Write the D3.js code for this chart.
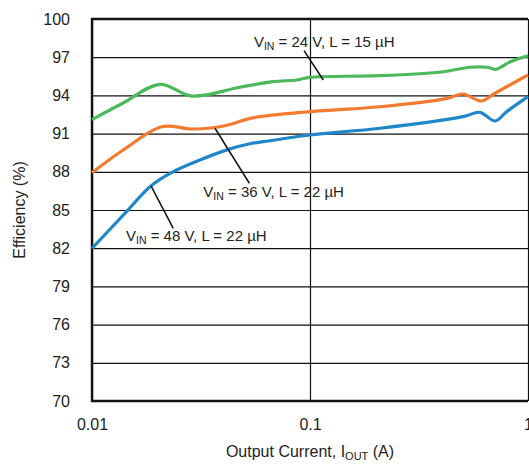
<!DOCTYPE html>
<html>
<head>
<meta charset="utf-8">
<script src="https://cdn.jsdelivr.net/npm/d3@7"></script>
<style>
  body { margin: 0; background: #fff; }
  text { font-family: "Liberation Sans", Arial, Helvetica, sans-serif; fill: #222; }
</style>
</head>
<body>
<svg id="chart" width="529" height="470"></svg>
<script>
// efficiency curves, [output current (A), efficiency (%)]
var vin24 = [[0.01, 92.1], [0.0139, 93.4], [0.0205, 94.87], [0.0287, 93.95], [0.0477, 94.64],
  [0.0676, 95.08], [0.087, 95.21], [0.1, 95.42], [0.21, 95.55], [0.41, 95.86],
  [0.54, 96.21], [0.65, 96.21], [0.71, 96.05], [0.83, 96.65], [1, 97.12]];
var vin36 = [[0.01, 87.93], [0.0139, 89.71], [0.0209, 91.54], [0.0287, 91.36], [0.0359, 91.46],
  [0.043, 91.72], [0.0531, 92.2], [0.1, 92.72], [0.21, 93.11], [0.425, 93.77],
  [0.503, 94.11], [0.613, 93.56], [0.706, 94.17], [1, 95.6]];
var vin48 = [[0.01, 81.99], [0.0144, 84.87], [0.01845, 86.83], [0.0228, 87.88], [0.0313, 88.93],
  [0.043, 89.8], [0.0531, 90.2], [0.0655, 90.44], [0.1, 90.89], [0.21, 91.42],
  [0.503, 92.33], [0.602, 92.67], [0.706, 91.99], [0.798, 92.72], [1, 93.9]];

var yTicks = [70, 73, 76, 79, 82, 85, 88, 91, 94, 97, 100];
var xTicks = [0.01, 0.1, 1];
var xTickLabels = ["0.01", "0.1", "1"];

// labels: [text x, text y, leader from x, y, leader to x, y] in data units
var notes = [
  { v: "24", l: "15", pos: [0.0553, 97.82, 0.0939, 97.51, 0.1151, 95.21] },
  { v: "36", l: "22", pos: [0.0324, 86.05, 0.03666, 91.42, 0.0527, 87.10] },
  { v: "48", l: "22", pos: [0.01432, 82.59, 0.01864, 86.89, 0.0236, 83.56] }
];

var series = [
  { data: vin24, color: "#4cb95a" },
  { data: vin36, color: "#f47a30" },
  { data: vin48, color: "#1f87c9" }
];

var svg = d3.select("#chart");
var mLeft = 92, mRight = 528, mTop = 19, mBottom = 401;

var x = d3.scaleLog().domain([0.01, 1]).range([mLeft, mRight]);
var y = d3.scaleLinear().domain([70, 100]).range([mBottom, mTop]);

// horizontal grid + y labels
var yAxis = svg.append("g")
    .attr("transform", "translate(" + mLeft + ",0)")
    .call(d3.axisLeft(y).tickValues(yTicks).tickSizeInner(-(mRight - mLeft)).tickSizeOuter(0).tickPadding(22));
yAxis.select(".domain").remove();
yAxis.selectAll("line").attr("stroke", "#111").attr("stroke-width", 1.2);
yAxis.selectAll("text").attr("font-size", 16).attr("font-family", null).attr("fill", null);

// vertical grid + x labels
var xAxis = svg.append("g")
    .attr("transform", "translate(0," + mBottom + ")")
    .call(d3.axisBottom(x).tickValues(xTicks).tickFormat(function(d, i) { return xTickLabels[i]; })
      .tickSizeInner(-(mBottom - mTop)).tickSizeOuter(0).tickPadding(18));
xAxis.select(".domain").remove();
xAxis.selectAll("line").attr("stroke", "#111").attr("stroke-width", 1.2);
xAxis.selectAll("text").attr("font-size", 16).attr("font-family", null).attr("fill", null);

// frame
svg.append("path")
    .attr("d", "M" + mRight + "," + mTop + "H" + mLeft + "V" + mBottom + "H" + mRight)
    .attr("fill", "none").attr("stroke", "#111").attr("stroke-width", 2.4);

// curves
var line = d3.line()
    .x(function(d) { return x(d[0]); })
    .y(function(d) { return y(d[1]); })
    .curve(d3.curveCatmullRom.alpha(0.5));

svg.append("g").selectAll("path")
    .data(series)
    .enter().append("path")
      .attr("d", function(d) { return line(d.data); })
      .attr("fill", "none")
      .attr("stroke", function(d) { return d.color; })
      .attr("stroke-width", 3.2)
      .attr("stroke-linejoin", "round");

// annotations
var note = svg.append("g").selectAll("g").data(notes).enter().append("g");
note.append("line")
    .attr("x1", function(d) { return x(d.pos[2]); })
    .attr("y1", function(d) { return y(d.pos[3]); })
    .attr("x2", function(d) { return x(d.pos[4]); })
    .attr("y2", function(d) { return y(d.pos[5]); })
    .attr("stroke", "#111").attr("stroke-width", 1.5);
var t = note.append("text")
    .attr("x", function(d) { return x(d.pos[0]); })
    .attr("y", function(d) { return y(d.pos[1]); })
    .attr("font-size", 15);
t.append("tspan").text("V");
t.append("tspan").attr("font-size", 10.5).attr("dy", 3).text("IN");
t.append("tspan").attr("dy", -3).text(function(d) { return " = " + d.v + " V, L = " + d.l + " µH"; });

// axis titles
var xt = svg.append("text")
    .attr("x", (mLeft + mRight) / 2).attr("y", 457)
    .attr("text-anchor", "middle").attr("font-size", 16);
xt.append("tspan").text("Output Current, I");
xt.append("tspan").attr("font-size", 11).attr("dy", 3).text("OUT");
xt.append("tspan").attr("dy", -3).text(" (A)");

svg.append("text")
    .attr("transform", "translate(25," + ((mTop + mBottom) / 2) + ") rotate(-90)")
    .attr("text-anchor", "middle").attr("font-size", 16)
    .text("Efficiency (%)");
</script>
</body>
</html>
